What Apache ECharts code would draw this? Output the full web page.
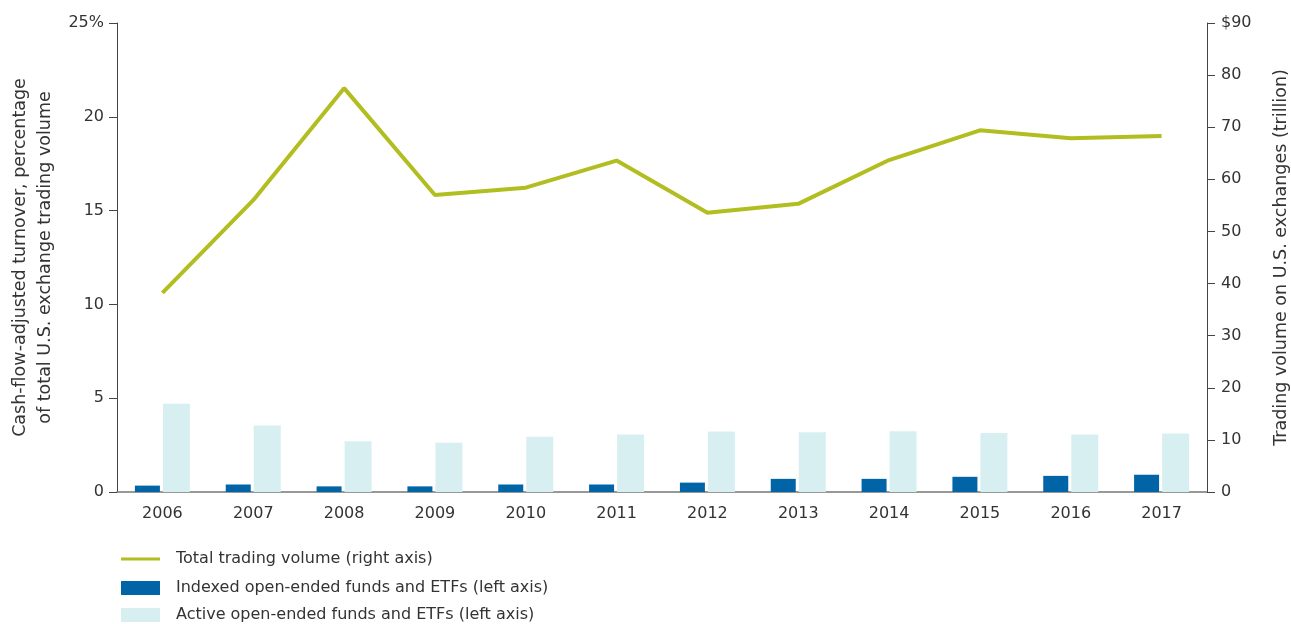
<!DOCTYPE html>
<html>
<head>
<meta charset="utf-8">
<script src="https://cdn.jsdelivr.net/npm/echarts@6/dist/echarts.min.js"></script>
<style>
html,body{margin:0;padding:0;background:#fff;}
#chart{width:1291px;height:624px;}
</style>
</head>
<body>
<div id="chart"></div>
<script>
const years = ['2006','2007','2008','2009','2010','2011','2012','2013','2014','2015','2016','2017'];
const indexedPct = [0.34, 0.40, 0.30, 0.30, 0.40, 0.40, 0.50, 0.70, 0.70, 0.81, 0.86, 0.92];
const activePct = [4.71, 3.55, 2.70, 2.63, 2.95, 3.07, 3.22, 3.19, 3.24, 3.14, 3.06, 3.12];
const totalVolume = [38.2, 56.0, 77.5, 57.0, 58.4, 63.6, 53.6, 55.3, 63.7, 69.4, 67.9, 68.3];
const leftTicks = {max: 25, interval: 5};
const rightTicks = {max: 90, interval: 10};

const NAME_LINE = 'Total trading volume (right axis)';
const NAME_IDX = 'Indexed open-ended funds and ETFs (left axis)';
const NAME_ACT = 'Active open-ended funds and ETFs (left axis)';

const FONT = 'DejaVu Sans';
const TXT = '#333';
const legendText = {fontFamily: FONT, fontSize: 16, color: TXT, padding: [0,0,0,11]};
function legendAt(top, name, h, icon) {
  return {orient: 'vertical', left: 121, top: top, padding: 0,
    itemWidth: 39, itemHeight: h, icon: icon, textStyle: legendText,
    data: [{name: name}]};
}
const chart = echarts.init(document.getElementById('chart'), null, {renderer: 'canvas'});
chart.setOption({
  animation: false,
  textStyle: {fontFamily: FONT},
  grid: {left: 117, right: 84, top: 23, bottom: 132, containLabel: false, outerBoundsMode: 'none'},
  legend: [
    legendAt(551, NAME_LINE, 3, 'rect'),
    legendAt(580, NAME_IDX, 14, 'rect'),
    legendAt(607, NAME_ACT, 14, 'rect')
  ],
  xAxis: {
    type: 'category', data: years, boundaryGap: true,
    axisLine: {lineStyle: {color: '#777', width: 1.5}},
    axisTick: {show: false},
    axisLabel: {fontFamily: FONT, fontSize: 16, color: TXT, margin: 14}
  },
  yAxis: [
    {
      type: 'value', min: 0, max: leftTicks.max, interval: leftTicks.interval, position: 'left',
      name: 'Cash-flow-adjusted turnover, percentage\nof total U.S. exchange trading volume',
      nameLocation: 'middle', nameGap: 59, nameRotate: 90,
      nameTextStyle: {fontFamily: FONT, fontSize: 17.5, color: TXT, lineHeight: 25},
      axisLine: {show: true, lineStyle: {color: '#444', width: 1}},
      axisTick: {show: true, inside: false, length: 8, lineStyle: {color: '#444'}},
      axisLabel: {fontFamily: FONT, fontSize: 16, color: TXT, margin: 13,
        formatter: v => v === leftTicks.max ? v + '%' : String(v)},
      splitLine: {show: false}
    },
    {
      type: 'value', min: 0, max: rightTicks.max, interval: rightTicks.interval, position: 'right',
      name: 'Trading volume on U.S. exchanges (trillion)',
      nameLocation: 'middle', nameGap: 65, nameRotate: 90,
      nameTextStyle: {fontFamily: FONT, fontSize: 17.5, color: TXT},
      axisLine: {show: true, lineStyle: {color: '#444', width: 1}},
      axisTick: {show: true, inside: false, length: 8, lineStyle: {color: '#444'}},
      axisLabel: {fontFamily: FONT, fontSize: 16, color: TXT, margin: 14,
        formatter: v => v === rightTicks.max ? '$' + v : String(v)},
      splitLine: {show: false}
    }
  ],
  series: [
    {
      name: NAME_IDX,
      type: 'bar', yAxisIndex: 0, data: indexedPct,
      barWidth: 25, barGap: '12%',
      itemStyle: {color: '#0064a6'}
    },
    {
      name: NAME_ACT,
      type: 'bar', yAxisIndex: 0, data: activePct,
      barWidth: 27,
      itemStyle: {color: '#d8eff2'}
    },
    {
      name: NAME_LINE,
      type: 'line', yAxisIndex: 1, data: totalVolume,
      symbol: 'none', showSymbol: false, z: 5,
      lineStyle: {color: '#b2bd20', width: 4},
      itemStyle: {color: '#b2bd20'}
    }
  ]
});
</script>
</body>
</html>
